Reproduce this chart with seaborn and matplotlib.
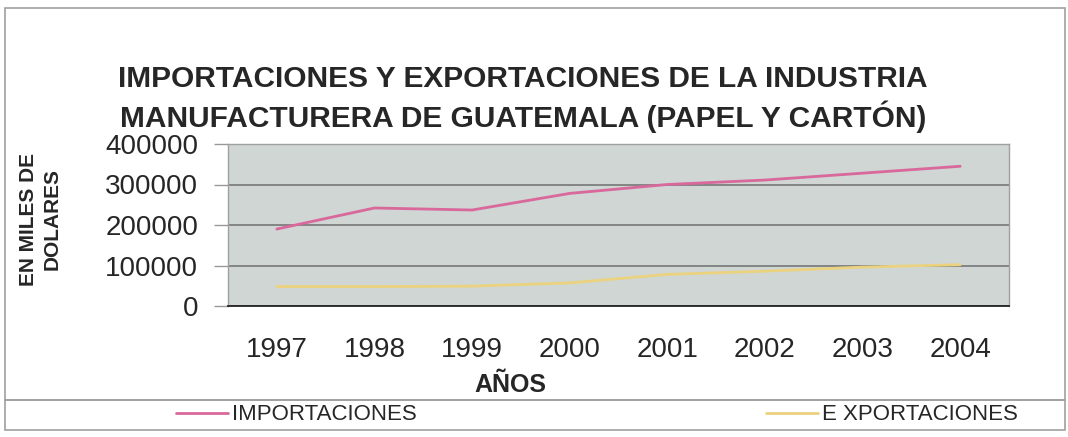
import matplotlib
matplotlib.use("Agg")
import matplotlib.pyplot as plt
import seaborn as sns
import pandas as pd
from matplotlib.patches import Rectangle

years = ["1997", "1998", "1999", "2000", "2001", "2002", "2003", "2004"]
importaciones = [190000, 242000, 237000, 278000, 300000, 311000, 328000, 345000]
exportaciones = [48000, 48000, 49000, 57000, 78000, 86000, 96000, 102000]
series_names = ["IMPORTACIONES", "E XPORTACIONES"]
series_colors = ["#d9689c", "#ebd27e"]
y_ticks = [0, 100000, 200000, 300000, 400000]

df = pd.DataFrame({
    "pos": list(range(len(years))) * 2,
    "valor": importaciones + exportaciones,
    "serie": [series_names[0]] * len(years) + [series_names[1]] * len(years),
})

sns.set_theme(style="white")
plt.rcParams["font.family"] = ["Liberation Sans", "DejaVu Sans"]

W, H = 1068, 437
fig = plt.figure(figsize=(W / 100, H / 100), dpi=100)
fig.patch.set_facecolor("white")

ax = fig.add_axes([228 / W, 1 - 306 / H, (1009 - 228) / W, (306 - 144) / H])
ax.set_facecolor("#cfd6d3")

sns.lineplot(data=df, x="pos", y="valor", hue="serie", palette=series_colors,
             hue_order=series_names, linewidth=2.0, ax=ax, legend=True)

ax.set_xlim(-0.5, len(years) - 0.5)
ax.set_ylim(y_ticks[0], y_ticks[-1])
ax.set_yticks(y_ticks)
ax.set_yticklabels([str(v) for v in y_ticks], fontsize=20)
ax.yaxis.grid(True, color="#6f6f6f", linewidth=1.1)
ax.set_axisbelow(True)

# boundaries between categories carry the tick marks, centres carry the labels
ax.set_xticks([i - 0.5 for i in range(len(years) + 1)])
ax.set_xticklabels([])
ax.set_xticks(list(range(len(years))), minor=True)
ax.set_xticklabels(years, minor=True, fontsize=20)
ax.tick_params(axis="x", which="major", direction="out", length=11, width=1, color="#666666")
ax.tick_params(axis="x", which="minor", length=0, pad=22)
ax.tick_params(axis="y", direction="out", length=10, width=1, color="#999999", pad=11.5, left=True)

for side in ["top", "right", "left"]:
    ax.spines[side].set_color("#a0a0a0")
    ax.spines[side].set_linewidth(1)
ax.spines["bottom"].set_color("#222222")
ax.spines["bottom"].set_linewidth(1.3)

ax.set_xlabel("")
ax.set_ylabel("")
handles, labels = ax.get_legend_handles_labels()
ax.get_legend().remove()

fig.text(523 / W, 1 - 79 / H, "IMPORTACIONES Y EXPORTACIONES DE LA INDUSTRIA",
         ha="center", va="center", fontsize=21.5, fontweight="bold")
fig.text(523 / W, 1 - 117 / H, "MANUFACTURERA DE GUATEMALA (PAPEL Y CARTÓN)",
         ha="center", va="center", fontsize=21.5, fontweight="bold")
fig.text(40 / W, 1 - 219 / H, "EN MILES DE\nDOLARES", rotation=90, ha="center",
         va="center", fontsize=15, fontweight="bold", linespacing=1.3, multialignment="center")
fig.text(510 / W, 1 - 385 / H, "AÑOS", ha="center", va="center",
         fontsize=18, fontweight="bold")

# chart frame and legend strip
fig.add_artist(Rectangle((5 / W, 1 - 400 / H), (1065 - 5) / W, (400 - 8) / H,
                         transform=fig.transFigure, fill=False, edgecolor="#a0a0a0", linewidth=1.2))
fig.add_artist(Rectangle((5 / W, 1 - 430 / H), (1065 - 5) / W, (430 - 400) / H,
                         transform=fig.transFigure, fill=False, edgecolor="#a0a0a0", linewidth=1.2))

leg = fig.legend(handles, labels, loc="center left", bbox_to_anchor=(176 / W, 1 - 415 / H),
                 ncol=2, frameon=False, fontsize=16, handlelength=2.34, handletextpad=0.18,
                 columnspacing=15.7, borderpad=0, borderaxespad=0)
for line in leg.get_lines():
    line.set_linewidth(2)

fig.savefig("out.png", dpi=100, facecolor="white")
